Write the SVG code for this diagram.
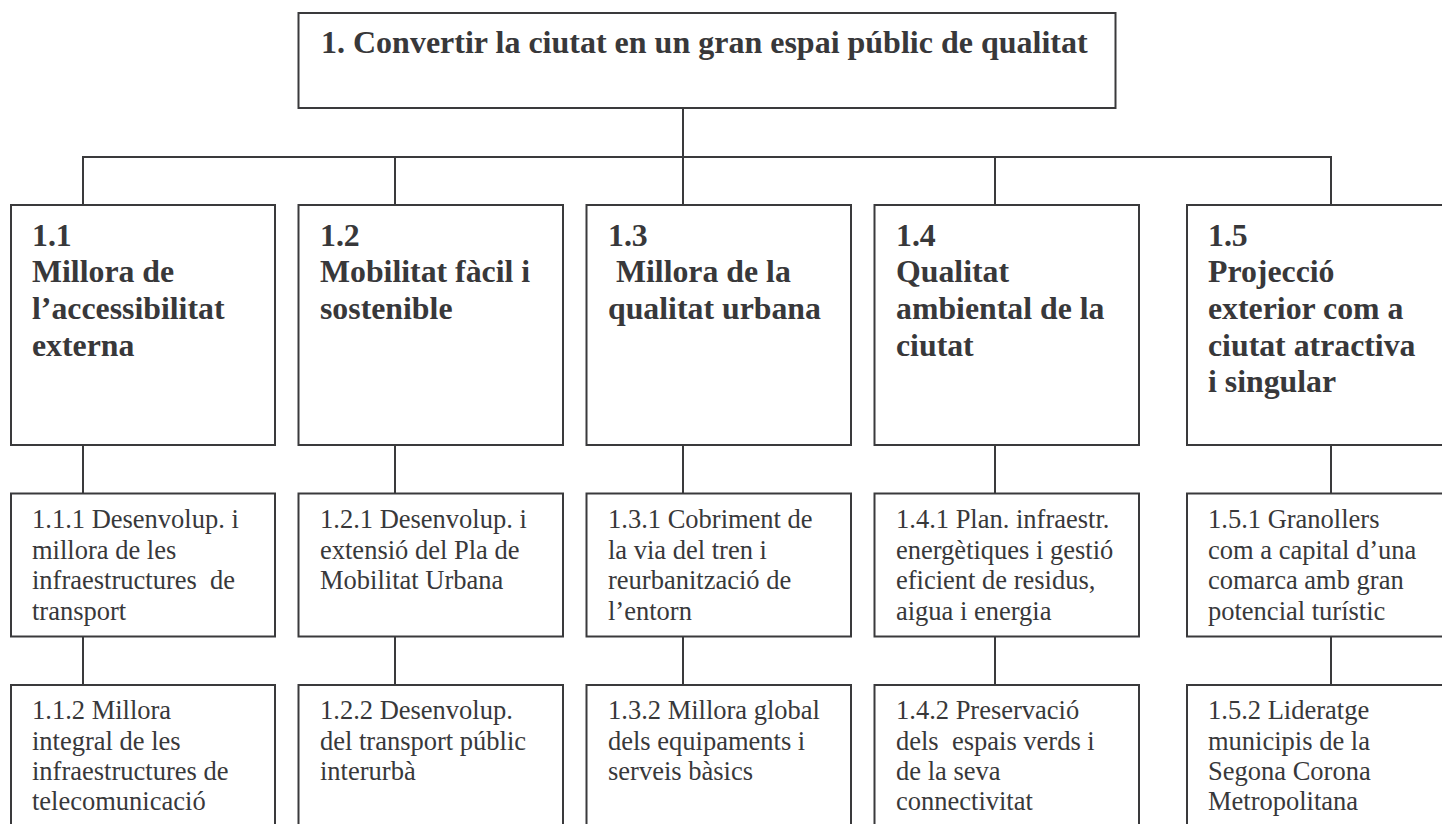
<svg xmlns="http://www.w3.org/2000/svg" width="1442" height="824" viewBox="0 0 1442 824">
<style>
rect.box{fill:#fff;stroke:#3a3a3c;stroke-width:2}
.con line{stroke:#3a3a3c;stroke-width:2}
text{font-family:"Liberation Serif","Times New Roman",serif;fill:#38383a;white-space:pre}
.t0{font-size:32px;font-weight:bold}
.t1{font-size:31.8px;font-weight:bold}
.t2{font-size:26.5px}
</style>
<rect width="1442" height="824" fill="#fff"/>
<g id="connectors" class="con">
<line x1="683" y1="108" x2="683" y2="157"/>
<line x1="82" y1="157" x2="1332" y2="157"/>
<line x1="83" y1="157" x2="83" y2="205"/>
<line x1="395" y1="157" x2="395" y2="205"/>
<line x1="683" y1="157" x2="683" y2="205"/>
<line x1="995" y1="157" x2="995" y2="205"/>
<line x1="1331" y1="157" x2="1331" y2="205"/>
<line x1="83" y1="445" x2="83" y2="493"/>
<line x1="395" y1="445" x2="395" y2="493"/>
<line x1="683" y1="445" x2="683" y2="493"/>
<line x1="995" y1="445" x2="995" y2="493"/>
<line x1="1331" y1="445" x2="1331" y2="493"/>
<line x1="83" y1="637" x2="83" y2="685"/>
<line x1="395" y1="637" x2="395" y2="685"/>
<line x1="683" y1="637" x2="683" y2="685"/>
<line x1="995" y1="637" x2="995" y2="685"/>
<line x1="1331" y1="637" x2="1331" y2="685"/>
</g>
<g id="n1">
<rect class="box" x="298.5" y="13" width="817" height="95"/>
<text class="t0" x="321" y="53">1. Convertir la ciutat en un gran espai públic de qualitat</text>
</g>
<g id="n1_1">
<rect class="box" x="11" y="205" width="264" height="240"/>
<text class="t1"><tspan x="32" y="246">1.1</tspan><tspan x="32" y="282">Millora de</tspan><tspan x="32" y="319">l’accessibilitat</tspan><tspan x="32" y="356">externa</tspan></text>
</g>
<g id="n1_2">
<rect class="box" x="298.5" y="205" width="264.5" height="240"/>
<text class="t1"><tspan x="320" y="246">1.2</tspan><tspan x="320" y="282">Mobilitat fàcil i</tspan><tspan x="320" y="319">sostenible</tspan></text>
</g>
<g id="n1_3">
<rect class="box" x="586.5" y="205" width="264.5" height="240"/>
<text class="t1"><tspan x="608" y="246">1.3</tspan><tspan x="608" y="282"> Millora de la</tspan><tspan x="608" y="319">qualitat urbana</tspan></text>
</g>
<g id="n1_4">
<rect class="box" x="874.5" y="205" width="264.5" height="240"/>
<text class="t1"><tspan x="896" y="246">1.4</tspan><tspan x="896" y="282">Qualitat</tspan><tspan x="896" y="319">ambiental de la</tspan><tspan x="896" y="356">ciutat</tspan></text>
</g>
<g id="n1_5">
<rect class="box" x="1187" y="205" width="264.5" height="240"/>
<text class="t1"><tspan x="1208" y="246">1.5</tspan><tspan x="1208" y="282">Projecció</tspan><tspan x="1208" y="319">exterior com a</tspan><tspan x="1208" y="356">ciutat atractiva</tspan><tspan x="1208" y="392">i singular</tspan></text>
</g>
<g id="n1_1_1">
<rect class="box" x="11" y="493.5" width="264" height="143"/>
<text class="t2"><tspan x="32" y="528">1.1.1 Desenvolup. i</tspan><tspan x="32" y="559">millora de les</tspan><tspan x="32" y="589">infraestructures  de</tspan><tspan x="32" y="620">transport</tspan></text>
</g>
<g id="n1_2_1">
<rect class="box" x="298.5" y="493.5" width="264.5" height="143"/>
<text class="t2"><tspan x="320" y="528">1.2.1 Desenvolup. i</tspan><tspan x="320" y="559">extensió del Pla de</tspan><tspan x="320" y="589">Mobilitat Urbana</tspan></text>
</g>
<g id="n1_3_1">
<rect class="box" x="586.5" y="493.5" width="264.5" height="143"/>
<text class="t2"><tspan x="608" y="528">1.3.1 Cobriment de</tspan><tspan x="608" y="559">la via del tren i</tspan><tspan x="608" y="589">reurbanització de</tspan><tspan x="608" y="620">l’entorn</tspan></text>
</g>
<g id="n1_4_1">
<rect class="box" x="874.5" y="493.5" width="264.5" height="143"/>
<text class="t2"><tspan x="896" y="528">1.4.1 Plan. infraestr.</tspan><tspan x="896" y="559">energètiques i gestió</tspan><tspan x="896" y="589">eficient de residus,</tspan><tspan x="896" y="620">aigua i energia</tspan></text>
</g>
<g id="n1_5_1">
<rect class="box" x="1187" y="493.5" width="264.5" height="143"/>
<text class="t2"><tspan x="1208" y="528">1.5.1 Granollers</tspan><tspan x="1208" y="559">com a capital d’una</tspan><tspan x="1208" y="589">comarca amb gran</tspan><tspan x="1208" y="620">potencial turístic</tspan></text>
</g>
<g id="n1_1_2">
<rect class="box" x="11" y="685" width="264" height="150"/>
<text class="t2"><tspan x="32" y="719">1.1.2 Millora</tspan><tspan x="32" y="750">integral de les</tspan><tspan x="32" y="780">infraestructures de</tspan><tspan x="32" y="810">telecomunicació</tspan></text>
</g>
<g id="n1_2_2">
<rect class="box" x="298.5" y="685" width="264.5" height="150"/>
<text class="t2"><tspan x="320" y="719">1.2.2 Desenvolup.</tspan><tspan x="320" y="750">del transport públic</tspan><tspan x="320" y="780">interurbà</tspan></text>
</g>
<g id="n1_3_2">
<rect class="box" x="586.5" y="685" width="264.5" height="150"/>
<text class="t2"><tspan x="608" y="719">1.3.2 Millora global</tspan><tspan x="608" y="750">dels equipaments i</tspan><tspan x="608" y="780">serveis bàsics</tspan></text>
</g>
<g id="n1_4_2">
<rect class="box" x="874.5" y="685" width="264.5" height="150"/>
<text class="t2"><tspan x="896" y="719">1.4.2 Preservació</tspan><tspan x="896" y="750">dels  espais verds i</tspan><tspan x="896" y="780">de la seva</tspan><tspan x="896" y="810">connectivitat</tspan></text>
</g>
<g id="n1_5_2">
<rect class="box" x="1187" y="685" width="264.5" height="150"/>
<text class="t2"><tspan x="1208" y="719">1.5.2 Lideratge</tspan><tspan x="1208" y="750">municipis de la</tspan><tspan x="1208" y="780">Segona Corona</tspan><tspan x="1208" y="810">Metropolitana</tspan></text>
</g>
</svg>
